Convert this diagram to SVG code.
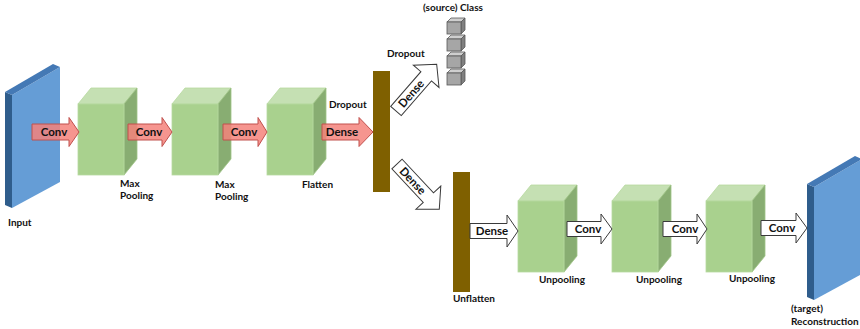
<svg xmlns="http://www.w3.org/2000/svg" width="860" height="329" viewBox="0 0 860 329">
  <style>
    text { font-family: Lato, "Open Sans", "Liberation Sans", sans-serif; font-weight: bold; fill: #111; }
    .lbl { font-size: 10px; }
    .alb { font-size: 11.5px; }
    .front { fill: #a9d18e; stroke: #b7d9a0; stroke-width: 0.8; }
    .top { fill: #c5e0b3; stroke: #b7d9a0; stroke-width: 0.8; }
    .side { fill: #88ad72; stroke: #9fc487; stroke-width: 0.8; }
    .face { fill: #659dd6; }
    .edge { fill: #2f5d8c; }
    .rim { fill: #4479b5; }
    .bar { fill: #7f6000; }
    .cf { fill: #a6a6a6; stroke: #595959; stroke-width: 0.8; }
    .ct { fill: #cfcfcf; stroke: #595959; stroke-width: 0.8; }
    .cs { fill: #808080; stroke: #595959; stroke-width: 0.8; }
    .red { fill: #f4837b; fill-opacity: 0.85; stroke: #c0504d; stroke-width: 1; }
    .wht { fill: #ffffff; stroke: #3a3a3a; stroke-width: 1; }
  </style>
  <defs>
    <!-- cuboid block: front 46x71, depth offset (13,-16) -->
    <g id="block">
      <polygon class="top" points="0,0 13,-16 59,-16 46,0"/>
      <polygon class="side" points="46,0 59,-16 59,55 46,71"/>
      <rect class="front" x="0" y="0" width="46" height="71"/>
    </g>
    <!-- thin image plane seen at an angle -->
    <g id="plane">
      <polygon class="face" points="7,3 55,-25 55,90 7,116"/>
      <polygon class="edge" points="0,0 7,3 7,116 0,113"/>
      <polygon class="rim" points="0,0 48,-28 55,-25 7,3"/>
    </g>
    <!-- small cube for the class vector -->
    <g id="cube">
      <polygon class="ct" points="0,0 4,-4 18,-4 14,0"/>
      <polygon class="cs" points="14,0 18,-4 18,8 14,12"/>
      <rect class="cf" x="0" y="0" width="14" height="12"/>
    </g>
  </defs>

  <!-- encoder -->
  <g id="input">
    <use href="#plane" x="5" y="92"/>
    <text class="lbl" x="8" y="226">Input</text>
  </g>
  <g id="pool1">
    <use href="#block" x="78" y="104"/>
    <text class="lbl" x="120" y="187">Max</text>
    <text class="lbl" x="120" y="199">Pooling</text>
  </g>
  <g id="pool2">
    <use href="#block" x="172" y="104"/>
    <text class="lbl" x="215" y="188">Max</text>
    <text class="lbl" x="215" y="200">Pooling</text>
  </g>
  <g id="flatten">
    <use href="#block" x="267" y="104"/>
    <text class="lbl" x="302" y="188">Flatten</text>
  </g>
  <g id="dropout">
    <rect class="bar" x="373" y="71" width="17" height="121"/>
    <text class="lbl" x="329" y="108">Dropout</text>
    <text class="lbl" x="387" y="57">Dropout</text>
  </g>
  <g id="source-class">
    <use href="#cube" x="447" y="22"/>
    <use href="#cube" x="447" y="39"/>
    <use href="#cube" x="447" y="56"/>
    <use href="#cube" x="447" y="73"/>
    <text class="lbl" x="423" y="11">(source) Class</text>
  </g>

  <!-- decoder -->
  <g id="unflatten">
    <rect class="bar" x="453" y="172" width="17" height="120"/>
    <text class="lbl" x="453" y="302">Unflatten</text>
  </g>
  <g id="unpool1">
    <use href="#block" x="518" y="201"/>
    <text class="lbl" x="539" y="283">Unpooling</text>
  </g>
  <g id="unpool2">
    <use href="#block" x="612" y="201"/>
    <text class="lbl" x="636" y="283">Unpooling</text>
  </g>
  <g id="unpool3">
    <use href="#block" x="706" y="201"/>
    <text class="lbl" x="729" y="282">Unpooling</text>
  </g>
  <g id="reconstruction">
    <use href="#plane" x="807" y="184"/>
    <text class="lbl" x="791" y="312">(target)</text>
    <text class="lbl" x="791" y="325">Reconstruction</text>
  </g>

  <!-- block arrows between layers -->
  <g id="connectors">
    <path class="red" d="M32,124 L69,124 L69,117.5 L79,132 L69,146.5 L69,140 L32,140 Z"/>
    <text class="alb" x="54" y="136" text-anchor="middle">Conv</text>
    <path class="red" d="M128,124 L162,124 L162,117.5 L172,132 L162,146.5 L162,140 L128,140 Z"/>
    <text class="alb" x="149" y="136" text-anchor="middle">Conv</text>
    <path class="red" d="M223,124 L258,124 L258,117.5 L267,132 L258,146.5 L258,140 L223,140 Z"/>
    <text class="alb" x="244" y="136" text-anchor="middle">Conv</text>
    <path class="red" d="M322,124 L359,124 L359,117.5 L373,132 L359,146.5 L359,140 L322,140 Z"/>
    <text class="alb" x="342" y="136" text-anchor="middle">Dense</text>

    <g transform="translate(396,111) rotate(-49)">
      <path class="wht" d="M0,-7 L46,-7 L46,-17 L62,0 L46,17 L46,7 L0,7 Z"/>
      <text class="alb" x="23" y="4" text-anchor="middle">Dense</text>
    </g>
    <g transform="translate(397,164) rotate(47)">
      <path class="wht" d="M0,-7 L46,-7 L46,-17 L62,0 L46,17 L46,7 L0,7 Z"/>
      <text class="alb" x="23" y="4" text-anchor="middle">Dense</text>
    </g>

    <path class="wht" d="M470,223.5 L507,223.5 L507,215 L518,231 L507,247 L507,238.5 L470,238.5 Z"/>
    <text class="alb" x="492" y="235" text-anchor="middle">Dense</text>
    <path class="wht" d="M567,221.5 L601,221.5 L601,214 L612,229 L601,244 L601,236.5 L567,236.5 Z"/>
    <text class="alb" x="588" y="233" text-anchor="middle">Conv</text>
    <path class="wht" d="M663,221.5 L697,221.5 L697,214 L707,229 L697,244 L697,236.5 L663,236.5 Z"/>
    <text class="alb" x="685" y="233" text-anchor="middle">Conv</text>
    <path class="wht" d="M761,220.5 L796,220.5 L796,213 L807,228 L796,243 L796,235.5 L761,235.5 Z"/>
    <text class="alb" x="782" y="232" text-anchor="middle">Conv</text>
  </g>
</svg>
